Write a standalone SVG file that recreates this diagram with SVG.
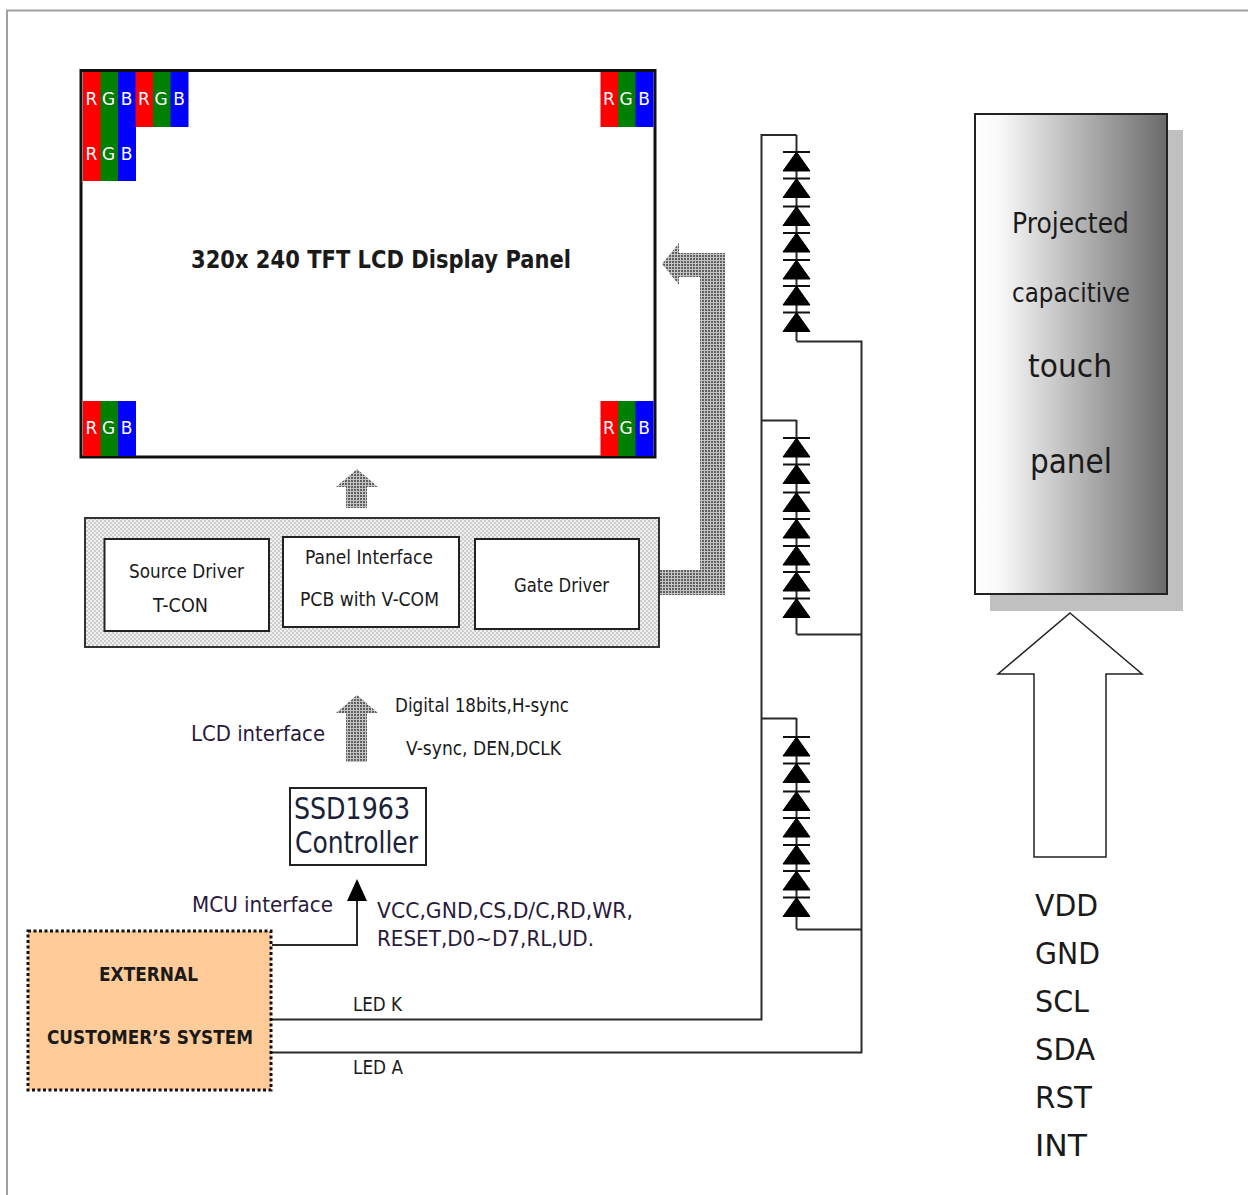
<svg xmlns="http://www.w3.org/2000/svg" xmlns:xlink="http://www.w3.org/1999/xlink" width="1248" height="1195" viewBox="0 0 1248 1195">
<style>
text{font-family:"DejaVu Sans","Liberation Sans",sans-serif;fill:#1a1a1a;text-anchor:start}
.box{fill:#fff;stroke:#222;stroke-width:2}
.wire{fill:none;stroke:#2a2a2a;stroke-width:2}
.cell{font-size:17px;fill:#fff;text-anchor:middle}
.t{font-size:19px}
.b{font-size:24px;font-weight:bold}
.big{font-size:31px}
.r{fill:#f00}.g{fill:#008000}.bl{fill:#00f}
</style>
<defs>
<pattern id="dk" width="3" height="3" patternUnits="userSpaceOnUse"><rect width="3" height="3" fill="#c4c4c4"/><rect width="2" height="2" fill="#606060"/></pattern>
<pattern id="lt" width="4" height="4" patternUnits="userSpaceOnUse"><rect width="4" height="4" fill="#f0f0f0"/><rect width="2" height="2" fill="#cccccc"/><rect x="2" y="2" width="2" height="2" fill="#cccccc"/></pattern>
<linearGradient id="grad" x1="0" x2="1" y1="0" y2="0"><stop offset="0" stop-color="#fff"/><stop offset="0.12" stop-color="#fafafa"/><stop offset="1" stop-color="#6a6a6a"/></linearGradient>
<g id="diode"><path d="M783 152H810" stroke="#111" stroke-width="2" fill="none"/><path d="M796.500 152L810 171H783Z" fill="#000" stroke="#000" stroke-width="1"/></g>
<g id="diodes">
<path d="M796.500 135V341" class="wire"/>
<use xlink:href="#diode"/><use xlink:href="#diode" y="26.500"/><use xlink:href="#diode" y="54.500"/><use xlink:href="#diode" y="81"/><use xlink:href="#diode" y="108"/><use xlink:href="#diode" y="134"/><use xlink:href="#diode" y="160.500"/>
</g>
<g id="diodes2">
<path d="M796.500 152V331" class="wire"/>
<use xlink:href="#diode"/><use xlink:href="#diode" y="26.500"/><use xlink:href="#diode" y="54.500"/><use xlink:href="#diode" y="81"/><use xlink:href="#diode" y="108"/><use xlink:href="#diode" y="134"/><use xlink:href="#diode" y="160.500"/>
</g>
<g id="rgb"><rect x="0" width="18" height="55" class="r"/><rect x="17.500" width="18" height="55" class="g"/><rect x="35" width="18" height="55" class="bl"/><text class="cell" x="8.500" y="33">R</text><text class="cell" x="25.500" y="33">G</text><text class="cell" x="43.500" y="33">B</text></g>
</defs>
<rect width="1248" height="1195" fill="#fff"/>
<path d="M7 1195V10.500H1248" fill="none" stroke="#a0a0a0" stroke-width="2"/>

<g id="panel">
<rect x="81" y="70.500" width="574" height="386.500" fill="#fff" stroke="#111" stroke-width="3"/>
<use xlink:href="#rgb" x="83" y="72"/><use xlink:href="#rgb" x="135.500" y="72"/>
<g transform="translate(83 127)"><rect x="0" width="18" height="54" class="r"/><rect x="17.500" width="18" height="54" class="g"/><rect x="35" width="18" height="54" class="bl"/><text class="cell" x="8.500" y="33">R</text><text class="cell" x="25.500" y="33">G</text><text class="cell" x="43.500" y="33">B</text></g>
<use xlink:href="#rgb" x="600.500" y="72"/>
<use xlink:href="#rgb" x="83" y="401"/><use xlink:href="#rgb" x="600.500" y="401"/>
<text class="b" x="191" y="268" textLength="380" lengthAdjust="spacingAndGlyphs">320x 240 TFT LCD Display Panel</text>
</g>

<g id="gate-arrow"><path d="M662 264L679 243V253H725V595H659V570H700V277H679V285Z" fill="url(#dk)"/></g>
<g id="panel-arrow"><path d="M357 469L378 487H367V508H346V487H336Z" fill="url(#dk)"/></g>

<g id="driver-board">
<rect x="85" y="518" width="574" height="129" fill="url(#lt)" stroke="#333" stroke-width="2"/>
</g>
<g id="source-driver"><rect class="box" x="104.500" y="539" width="164.500" height="92"/>
<text class="t" x="129" y="578" textLength="115" lengthAdjust="spacingAndGlyphs">Source Driver</text>
<text class="t" x="153" y="612" textLength="55" lengthAdjust="spacingAndGlyphs">T-CON</text></g>
<g id="panel-interface"><rect class="box" x="283" y="537" width="176" height="90"/>
<text class="t" x="305" y="564" textLength="128" lengthAdjust="spacingAndGlyphs">Panel Interface</text>
<text class="t" x="300" y="606" textLength="139" lengthAdjust="spacingAndGlyphs">PCB with V-COM</text></g>
<g id="gate-driver"><rect class="box" x="475" y="539" width="164" height="90"/>
<text class="t" x="514" y="592" textLength="95" lengthAdjust="spacingAndGlyphs">Gate Driver</text></g>

<g id="lcd-arrow"><path d="M357 695L378 713H367V762H346V713H336Z" fill="url(#dk)"/></g>
<g id="labels">
<text x="191" y="741" font-size="21" style="fill:#2a1a3a" textLength="134" lengthAdjust="spacingAndGlyphs">LCD interface</text>
<text class="t" x="395" y="712" textLength="174" lengthAdjust="spacingAndGlyphs">Digital 18bits,H-sync</text>
<text class="t" x="406" y="755" textLength="155" lengthAdjust="spacingAndGlyphs">V-sync, DEN,DCLK</text>
<text x="192" y="912" font-size="21" style="fill:#2a1a3a" textLength="141" lengthAdjust="spacingAndGlyphs">MCU interface</text>
<text x="377" y="918" font-size="21" style="fill:#2a1a3a" textLength="256" lengthAdjust="spacingAndGlyphs">VCC,GND,CS,D/C,RD,WR,</text>
<text x="377" y="946" font-size="21" style="fill:#2a1a3a" textLength="217" lengthAdjust="spacingAndGlyphs">RESET,D0~D7,RL,UD.</text>
<text class="t" x="353" y="1011" font-size="18" textLength="49" lengthAdjust="spacingAndGlyphs">LED K</text>
<text class="t" x="353" y="1074" font-size="18" textLength="50" lengthAdjust="spacingAndGlyphs">LED A</text>
</g>

<g id="controller"><rect x="290" y="788" width="136" height="77" fill="#fff" stroke="#222" stroke-width="2"/>
<text x="294" y="819" font-size="30" style="fill:#1a2238" textLength="116" lengthAdjust="spacingAndGlyphs">SSD1963</text>
<text x="295" y="853" font-size="30" style="fill:#1a2238" textLength="123" lengthAdjust="spacingAndGlyphs">Controller</text></g>

<g id="connectors">
<path class="wire" d="M272 945H357V895"/>
<path d="M357 879L367 901H347Z" fill="#000"/>
<path class="wire" d="M272 1019.500H761.500V135H796.500"/>
<path class="wire" d="M272 1052.500H861.500V341.500H796.500"/>
<path class="wire" d="M761.500 420.500H796.500"/>
<path class="wire" d="M796.500 634.500H861.500"/>
<path class="wire" d="M761.500 718.500H796.500"/>
<path class="wire" d="M796.500 929.500H861.500"/>
</g>
<g id="led-1"><use xlink:href="#diodes"/></g>
<g id="led-2"><path class="wire" d="M796.500 420V437M796.500 617V634"/><use xlink:href="#diodes2" y="286"/></g>
<g id="led-3"><path class="wire" d="M796.500 718V737M796.500 916V929"/><use xlink:href="#diodes2" y="585"/></g>

<g id="customer-system">
<rect x="28" y="931" width="243" height="159" fill="#FFCC99" stroke="#111" stroke-width="3" stroke-dasharray="3 2.500"/>
<text x="99" y="981" font-size="19" font-weight="bold" textLength="99" lengthAdjust="spacingAndGlyphs">EXTERNAL</text>
<text x="47" y="1044" font-size="19" font-weight="bold" textLength="206" lengthAdjust="spacingAndGlyphs">CUSTOMER’S SYSTEM</text>
</g>

<g id="touch-panel">
<rect x="990" y="130" width="193" height="481" fill="#c0c0c0"/>
<rect x="975" y="114" width="192" height="480" fill="url(#grad)" stroke="#222" stroke-width="2"/>
<text x="1012" y="233" font-size="29" textLength="117" lengthAdjust="spacingAndGlyphs">Projected</text>
<text x="1012" y="302" font-size="27" textLength="118" lengthAdjust="spacingAndGlyphs">capacitive</text>
<text x="1028" y="377" font-size="32" textLength="84" lengthAdjust="spacingAndGlyphs">touch</text>
<text x="1030" y="473" font-size="33" textLength="82" lengthAdjust="spacingAndGlyphs">panel</text>
</g>
<g id="touch-arrow"><path d="M1070 613L1142 674H1106V857H1034V674H998Z" fill="#fff" stroke="#222" stroke-width="1.500"/></g>
<g id="touch-signals">
<text class="big" x="1035" y="916" textLength="63" lengthAdjust="spacingAndGlyphs">VDD</text>
<text class="big" x="1035" y="964" textLength="65" lengthAdjust="spacingAndGlyphs">GND</text>
<text class="big" x="1035" y="1012" textLength="54" lengthAdjust="spacingAndGlyphs">SCL</text>
<text class="big" x="1035" y="1060" textLength="60" lengthAdjust="spacingAndGlyphs">SDA</text>
<text class="big" x="1035" y="1108" textLength="57" lengthAdjust="spacingAndGlyphs">RST</text>
<text class="big" x="1035" y="1156" textLength="52" lengthAdjust="spacingAndGlyphs">INT</text>
</g>
</svg>
